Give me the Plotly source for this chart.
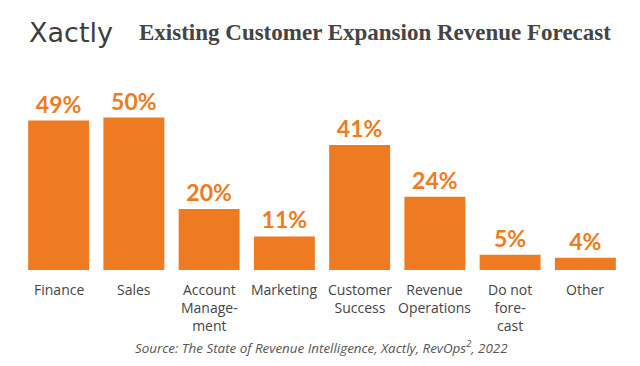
import plotly.graph_objects as go

categories = ["Finance", "Sales", "Account<br>Manage-<br>ment", "Marketing",
              "Customer<br>Success", "Revenue<br>Operations", "Do not<br>fore-<br>cast", "Other"]
values = [49, 50, 20, 11, 41, 24, 5, 4]
labels = [f"<b>{v}%</b>" for v in values]
title = "Existing Customer Expansion Revenue Forecast"
logo = "Xactly"
source = "Source: The State of Revenue Intelligence, Xactly, RevOps<sup>2</sup>, 2022"

ORANGE = "#EE7B22"
GREY = "#444444"

W, H = 640, 366
l, r, t, b = 21, 17, 80, 96
pw, ph = W - l - r, H - t - b
def px(x): return (x - l) / pw
def py(y): return (H - b - y) / ph

fig = go.Figure(go.Bar(
    x=categories, y=values, text=labels, textposition="outside",
    textfont=dict(family="Lato, Roboto, sans-serif", size=23, color=ORANGE),
    marker=dict(color=ORANGE, line=dict(width=0)),
    cliponaxis=False, hoverinfo="skip",
))

fig.update_layout(
    width=W, height=H,
    margin=dict(l=l, r=r, t=t, b=b, autoexpand=False),
    paper_bgcolor="white", plot_bgcolor="white",
    bargap=0.19, showlegend=False,
    xaxis=dict(showline=False, showgrid=False, ticks="", showticklabels=False, automargin=False,
               fixedrange=True),
    yaxis=dict(range=[0, 62.3], visible=False, fixedrange=True, automargin=False),
)

# category labels placed under each bar via the category axis
for cat in categories:
    fig.add_annotation(x=cat, xref="x", y=py(277.5), yref="paper",
                       text=cat, showarrow=False, xanchor="center", yanchor="top",
                       font=dict(family="Open Sans, sans-serif", size=14, color=GREY))

fig.add_annotation(x=px(27), y=py(32), xref="paper", yref="paper", text=logo, showarrow=False,
                   xanchor="left", yanchor="middle",
                   font=dict(family="DejaVu Sans, sans-serif", size=27, color="#3d3d3d"))
fig.add_annotation(x=px(137), y=py(33), xref="paper", yref="paper",
                   text=f"<b>{title}</b>", showarrow=False,
                   xanchor="left", yanchor="middle",
                   font=dict(family="Liberation Serif, serif", size=23, color=GREY))
fig.add_annotation(x=px(321), y=py(347), xref="paper", yref="paper",
                   text=f"<i>{source}</i>",
                   showarrow=False, xanchor="center", yanchor="middle",
                   font=dict(family="Open Sans, sans-serif", size=13.4, color="#555555"))

fig.write_html("out.html", config={"displayModeBar": False},
               post_script="document.body.style.margin='0';")
